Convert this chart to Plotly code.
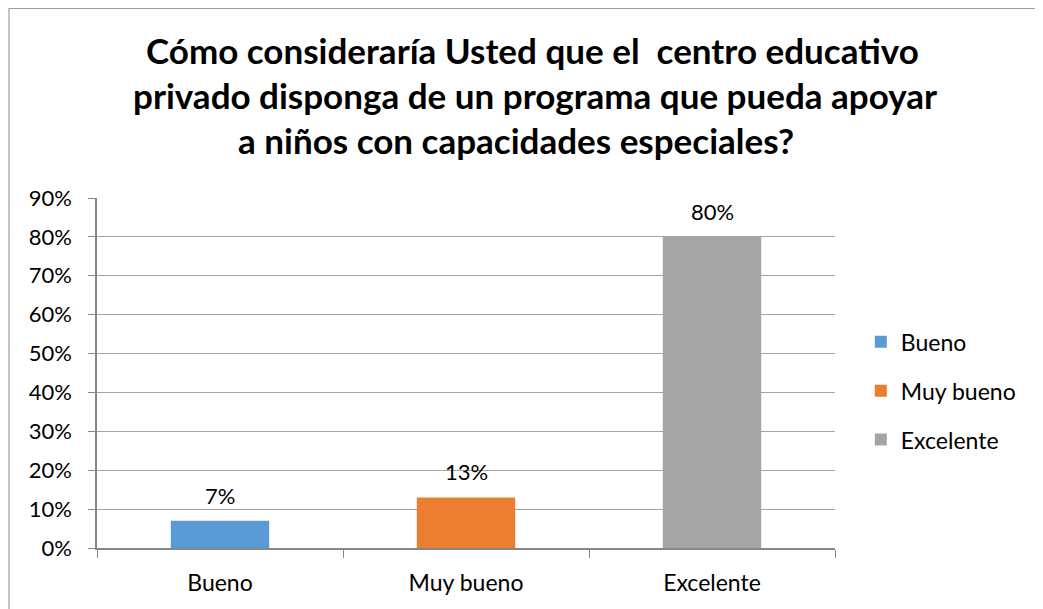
import plotly.graph_objects as go

categories = ["Bueno", "Muy bueno", "Excelente"]
values = [0.07, 0.13, 0.80]
labels = ["7%", "13%", "80%"]
colors = ["#5B9BD5", "#ED7D31", "#A5A5A5"]
title_lines = [
    "Cómo consideraría Usted que el  centro educativo",
    "privado disponga de un programa que pueda apoyar",
    "a niños con capacidades especiales?",
]
y_ticks = [i / 10 for i in range(10)]
y_tick_labels = [f"{i * 10}%" for i in range(10)]

FONT = "Lato, Calibri, sans-serif"

# page is rendered with an 8px body margin, so the figure is 8px smaller
W, H = 1035, 601
L, R, T, B = 89, 208, 190, 61
PW, PH = W - L - R, H - T - B

fig = go.Figure()

for cat, val, col in zip(categories, values, colors):
    fig.add_trace(go.Bar(
        x=[cat], y=[val], name=cat,
        marker=dict(color=col, line=dict(width=0)),
        width=0.4, legendgroup=cat,
    ))

# data labels above bars
for cat, val, lab in zip(categories, values, labels):
    fig.add_annotation(
        x=cat, y=val, text=lab, showarrow=False,
        yanchor="bottom", yshift=10,
        font=dict(family=FONT, size=22, color="#000000"),
    )

# title, one annotation per line to match Excel spacing
title_x = [524, 527, 508]
for i, line in enumerate(title_lines):
    fig.add_annotation(
        xref="paper", yref="paper", x=(title_x[i] - L) / PW, y=1,
        text="<b>" + line + "</b>", showarrow=False,
        xanchor="center", yanchor="middle",
        yshift=T - 42 - 45 * i,
        font=dict(family=FONT, size=35, color="#000000"),
    )

# outer chart border
fig.add_shape(
    type="rect", xref="paper", yref="paper",
    x0=(1 - L) / PW, x1=(W - 1 - L) / PW,
    y0=-(B + 20) / PH, y1=1 + (T - 0.5) / PH,
    line=dict(color="#A0A0A0", width=1.2), fillcolor="rgba(0,0,0,0)",
    layer="below",
)

fig.update_layout(
    width=W, height=H,
    margin=dict(l=L, r=R, t=T, b=B),
    paper_bgcolor="white", plot_bgcolor="white",
    barmode="overlay",
    font=dict(family=FONT, size=23, color="#000000"),
    showlegend=True,
    legend=dict(
        x=1.035, y=0.449, xanchor="left", yanchor="middle",
        font=dict(family=FONT, size=23),
        tracegroupgap=16, itemclick=False,
    ),
    xaxis=dict(
        categoryorder="array", categoryarray=categories,
        showline=True, linecolor="#868686", linewidth=1.5,
        ticks="outside", tickson="boundaries", ticklen=8,
        tickcolor="#868686", showgrid=False, zeroline=False,
        ticklabelstandoff=14,
        tickfont=dict(family=FONT, size=23),
    ),
    yaxis=dict(
        range=[0, 0.9], tickvals=y_ticks, ticktext=y_tick_labels,
        showline=True, linecolor="#868686", linewidth=1.5,
        ticks="outside", ticklen=7, tickcolor="#868686",
        showgrid=True, gridcolor="#A6A6A6", gridwidth=1.2,
        zeroline=False, ticklabelstandoff=12,
        tickfont=dict(family=FONT, size=22),
    ),
)

fig.write_html("out.html")
